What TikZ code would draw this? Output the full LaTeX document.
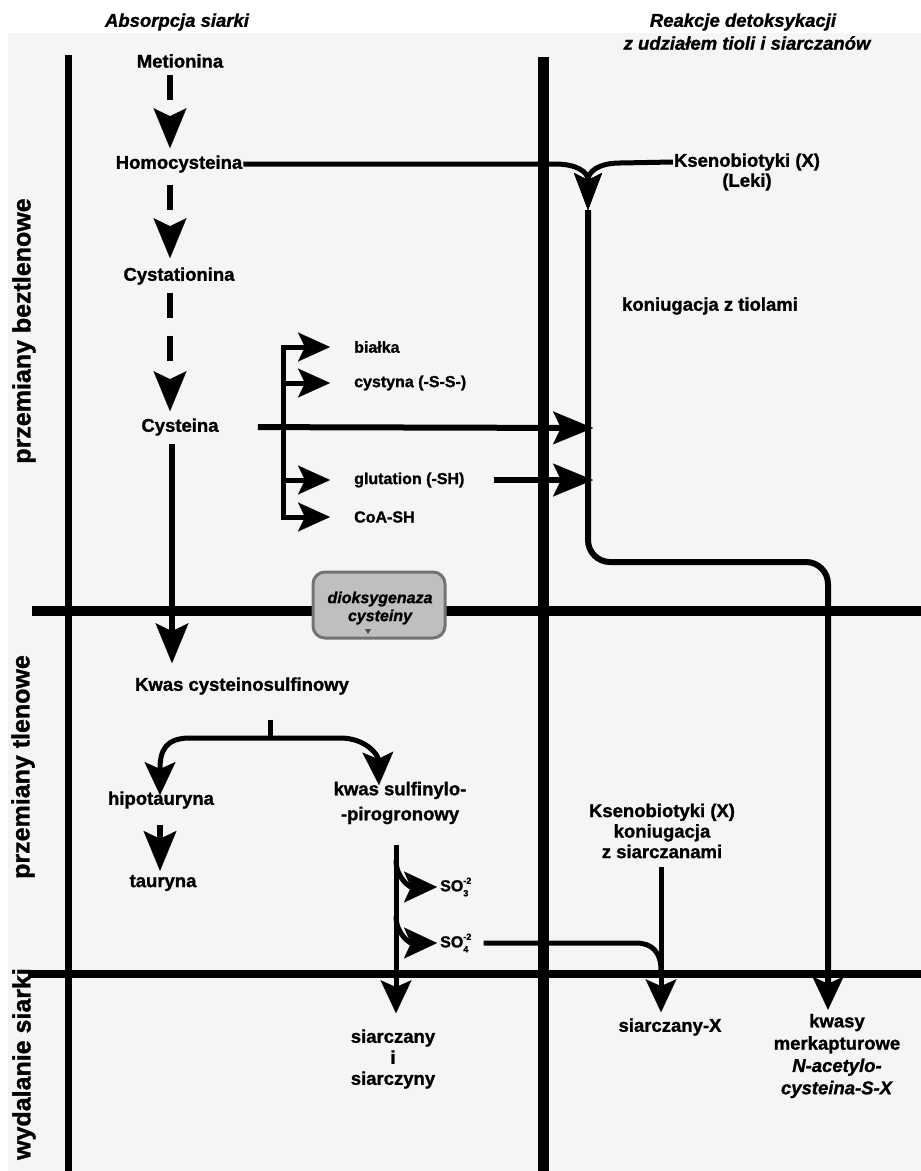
\documentclass[tikz,border=0pt]{standalone}
\usepackage{fontspec}
\setmainfont{Liberation Sans}[BoldFeatures={FakeBold=1.2},BoldItalicFeatures={FakeBold=1.2}]
\usetikzlibrary{arrows.meta}
\newcommand{\sulfion}[1]{SO\rlap{\raisebox{7.5pt}{\fontsize{9}{9}\selectfont -2}}\raisebox{-5pt}{\fontsize{9}{9}\selectfont #1}}
\tikzset{
  txt/.style={font=\fontsize{18.5}{21}\selectfont\bfseries, inner sep=1pt, align=center},
  stxt/.style={font=\fontsize{16}{19}\selectfont\bfseries, inner sep=1pt, anchor=west},
  side/.style={font=\fontsize{25}{25}\selectfont\bfseries, inner sep=1pt, rotate=90},
  ttl/.style={font=\fontsize{18.5}{21}\selectfont\bfseries\itshape, inner sep=1pt},
  headA/.tip={Stealth[length=40pt,width=33pt,inset=8pt,line width=0.1pt]},
  headB/.tip={Stealth[length=37pt,width=28pt,inset=7pt,line width=0.1pt]},
  headC/.tip={Stealth[length=33pt,width=31pt,inset=7pt,line width=0.1pt]},
  headD/.tip={Stealth[length=32pt,width=29pt,inset=7pt,line width=0.1pt]},
  mainln/.style={line width=6pt},
  brln/.style={line width=5pt},
  gridln/.style={line width=#1},
  dashln/.style={line width=6pt, dash pattern=on 25pt off 18pt},
  enzbox/.style={draw=black!55, fill=black!25, line width=3pt, rounded corners=12pt,
    minimum width=132pt, minimum height=66pt, inner sep=0pt},
  enztxt/.style={font=\fontsize{16}{18}\selectfont\bfseries\itshape, inner sep=0pt, align=center}
}
\begin{document}
\begin{tikzpicture}[x=1pt,y=-1pt]
\useasboundingbox (0,0) rectangle (921,1171);
\fill[black!4] (8,33) rectangle (921,1171);

% frame lines
\draw[gridln=7pt] (68,55) -- (68,1171);
\draw[gridln=11pt] (543,57) -- (543,1171);
\draw[gridln=10pt] (32,611) -- (921,611);
\draw[gridln=8pt] (28,974) -- (921,974);

% titles and side labels
\node[ttl] (tA) at (177,22) {Absorpcja siarki};
\node[ttl] (tR1) at (743,22) {Reakcje detoksykacji};
\node[ttl] (tR2) at (747,43) {z udziałem tioli i siarczanów};
\node[side] (s1) at (24,331) {przemiany beztlenowe};
\node[side] (s2) at (23,767) {przemiany tlenowe};
\node[side] (s3) at (24,1064) {wydalanie siarki};

% main column
\node[txt] (met) at (180,61) {Metionina};
\node[txt] (hom) at (179,164) {Homocysteina};
\node[txt] (cyst) at (179,276) {Cystationina};
\node[txt] (cys) at (180,427) {Cysteina};
\node[txt] (kcs) at (242,686) {Kwas cysteinosulfinowy};
\node[txt] (hip) at (161,800) {hipotauryna};
\node[txt] (tau) at (163,883) {tauryna};
\node[txt, font=\fontsize{18.5}{25}\selectfont\bfseries] (ksp) at (400,803) {kwas sulfinylo-\\-pirogronowy};
\node[stxt, anchor=west] (so3) at (439,887) {\sulfion{3}};
\node[stxt, anchor=west] (so4) at (439,943) {\sulfion{4}};
\node[txt] (sis) at (393,1059) {siarczany\\i\\siarczyny};

% right part
\node[txt] (kl1) at (747,162) {Ksenobiotyki (X)};
\node[txt] (kl2) at (747,182) {(Leki)};
\node[txt] (kzt) at (710,306) {koniugacja z tiolami};
\node[txt, font=\fontsize{18.5}{20.5}\selectfont\bfseries] (ksx) at (662,831) {Ksenobiotyki (X)\\koniugacja\\z siarczanami};
\node[txt] (sx) at (670,1027) {siarczany-X};
\node[txt, font=\fontsize{18.5}{22.3}\selectfont\bfseries] (km) at (837,1056) {kwasy\\merkapturowe\\\textit{N-acetylo-}\\\textit{cysteina-S-X}};

% cysteine products
\node[stxt] (bia) at (353,347) {białka};
\node[stxt] (cyn) at (353,383) {cystyna (-S-S-)};
\node[stxt] (glu) at (353,480) {glutation (-SH)};
\node[stxt] (coa) at (353,517) {CoA-SH};

% helper coordinates
\coordinate (ax) at (170,0);
\coordinate (ax2) at (172,0);
\coordinate (mrg) at (588,210);
\coordinate (rx) at (828,0);
\coordinate (tj1) at (593,428);
\coordinate (tj2) at (593,480);
\coordinate (bt) at (283,347);
\coordinate (bm) at (283,428);
\coordinate (bb) at (283,517);
\coordinate (kb) at (270,738);
\coordinate (hipT) at (160,795);
\coordinate (kspT) at (379,785);
\coordinate (sv) at (396,0);
\coordinate (xv) at (661,0);
\coordinate (hx) at (160,0);

% main dashed arrows
\draw[dashln, -{headA}, shorten <=6pt, shorten >=6pt] (met.south -| ax) -- (hom.north -| ax);
\draw[dashln, -{headA}, shorten <=11pt, shorten >=8pt] (hom.south -| ax) -- (cyst.north -| ax);
\draw[dashln, -{headA}, shorten <=7pt, shorten >=6pt] (cyst.south -| ax) -- (cys.north -| ax);
\draw[mainln, -{headA}, shorten <=7pt, shorten >=13pt] (cys.south -| ax2) -- (kcs.north -| ax2);

% homocysteine and xenobiotics merging
\draw[brln, -{headB}] (hom.east) -- (555,164) .. controls (577,164) and (588,172) .. (mrg);
\draw[brln, -{headB}] (kl1.west) -- (620,163) .. controls (598,163) and (588,172) .. (mrg);
\draw[mainln, rounded corners=22pt, -{headC}, shorten >=3pt] (mrg) -- (588,562) -- (828,562) -- (km.north -| rx);

% cysteine branches
\draw[mainln, -{headA}, shorten <=38pt] (cys.east) -- (tj1);
\draw[mainln, -{headA}, shorten <=28pt] (glu.east) -- (tj2);
\draw[brln, -{headD}, shorten >=23pt] (bm) -- (bt) -- (bia.west);
\draw[brln, -{headD}, shorten >=23pt] (bt |- cyn.west) -- (cyn.west);
\draw[brln, -{headD}, shorten >=23pt] (bt |- glu.west) -- (glu.west);
\draw[brln, -{headD}, shorten >=23pt] (bm) -- (bb) -- (coa.west);

% cysteinesulfinic acid branches
\draw[brln, shorten <=24pt] (kcs.south -| kb) -- (kb);
\draw[brln, -{headC}] (kb) -- (190,738) .. controls (166,738) and (160,750) .. (hipT);
\draw[brln, -{headC}] (kb) -- (340,738) .. controls (366,738) and (378,755) .. (kspT);
\draw[mainln, -{headA}, shorten <=15pt, shorten >=3pt] (hip.south -| hx) -- (tau.north -| hx);

% sulfite / sulfate
\draw[brln, -{headC}, shorten <=20pt, shorten >=15pt] (ksp.south -| sv) -- (sis.north -| sv);
\draw[brln, -{headC}, shorten >=2pt] (396,860) .. controls (396,878) and (410,887) .. (so3.west);
\draw[brln, -{headC}, shorten >=2pt] (396,916) .. controls (396,934) and (410,943) .. (so4.west);
\draw[brln, shorten <=14pt] (so4.east) -- (636,943) .. controls (652,943) and (661,952) .. (661,970);
\draw[brln, -{headC}, shorten <=7pt, shorten >=5pt] (ksx.south -| xv) -- (sx.north -| xv);

% enzyme box
\node[enzbox] (dio) at (379,605) {};
\node[enztxt] (diot) at (380,608) {dioksygenaza\\cysteiny};
\fill[black!70] (365,629) -- (371,629) -- (368,634) -- cycle;
\end{tikzpicture}
\end{document}
